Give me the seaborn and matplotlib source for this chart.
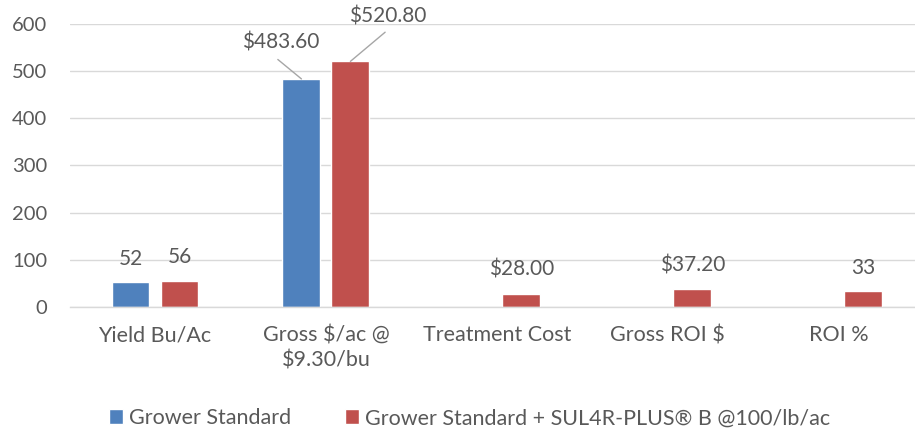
import numpy as np
import pandas as pd
import matplotlib
matplotlib.use('Agg')
import matplotlib.pyplot as plt
import seaborn as sns

# Data
categories = ['Yield Bu/Ac', 'Gross $/ac @\n$9.30/bu', 'Treatment Cost', 'Gross ROI $', 'ROI %']
series_names = ['Grower Standard', 'Grower Standard + SUL4R-PLUS\u00ae B @100/lb/ac']
grower_standard = [52, 483.60, np.nan, np.nan, np.nan]
grower_sul4r = [56, 520.80, 28.00, 37.20, 33]
grower_standard_labels = ['52', '$483.60', '', '', '']
grower_sul4r_labels = ['56', '$520.80', '$28.00', '$37.20', '33']

colors = ['#4F81BD', '#C0504D']
text_color = '#595959'
grid_color = '#D9D9D9'

df = pd.DataFrame({
    'Category': categories * 2,
    'Series': [series_names[0]] * 5 + [series_names[1]] * 5,
    'Value': grower_standard + grower_sul4r,
})

sns.set_theme(style='white')
plt.rcParams['font.family'] = ['Lato', 'DejaVu Sans']
plt.rcParams['text.parse_math'] = False

fig = plt.figure(figsize=(9.15, 4.32), dpi=100)
# plot area runs slightly past the right edge, as in the cropped original
ax = fig.add_axes([0.076, 0.2894, 0.934, 0.655])

sns.barplot(data=df, x='Category', y='Value', hue='Series', order=categories,
            hue_order=series_names, palette=colors, width=0.573, gap=0.225,
            saturation=1, ax=ax, legend=True)

ax.set_ylim(0, 600)
ax.set_yticks(range(0, 601, 100))
ax.yaxis.grid(True, color=grid_color, linewidth=1)
ax.set_axisbelow(True)
for side in ['top', 'right', 'left']:
    ax.spines[side].set_visible(False)
ax.spines['bottom'].set_color(grid_color)
ax.spines['bottom'].set_linewidth(1)
ax.tick_params(axis='both', length=0, colors=text_color)
ax.tick_params(axis='x', pad=13, labelsize=15.5)
ax.tick_params(axis='y', pad=16, labelsize=14.5)
for t in ax.get_xticklabels():
    t.set_linespacing(1.35)
ax.set_xlabel('')
ax.set_ylabel('')

# Data labels
label_sets = [grower_standard_labels, grower_sul4r_labels]
for container, labels in zip(ax.containers, label_sets):
    for bar, lab in zip(container, labels):
        h = bar.get_height()
        if not lab or np.isnan(h):
            continue
        xc = bar.get_x() + bar.get_width() / 2
        if h > 400:
            # labels with leader lines
            if lab == grower_standard_labels[1]:
                dx, dy, lx, ly = -15, 26, -17, 14
            else:
                dx, dy, lx, ly = 27, 32, 25, 21
            ax.annotate(lab, xy=(xc, h), xytext=(dx, dy), textcoords='offset points',
                        ha='center', va='center', fontsize=15, color=text_color)
            ax.annotate('', xy=(xc, h), xytext=(lx, ly), textcoords='offset points',
                        arrowprops=dict(arrowstyle='-', color='#A6A6A6', lw=1,
                                        shrinkA=0, shrinkB=0))
        else:
            ax.annotate(lab, xy=(xc, h), xytext=(0, 10), textcoords='offset points',
                        ha='center', va='bottom', fontsize=15, color=text_color)

# Legend at the bottom
handles, labels = ax.get_legend_handles_labels()
ax.get_legend().remove()
fig.legend(handles, labels, loc='center', bbox_to_anchor=(0.513, 0.032), ncol=2,
           frameon=False, fontsize=15.5, labelcolor=text_color, handlelength=0.65,
           handleheight=0.65, handletextpad=0.28, columnspacing=2.5,
           borderpad=0, borderaxespad=0)

plt.savefig('out.png', dpi=100)
plt.close()
